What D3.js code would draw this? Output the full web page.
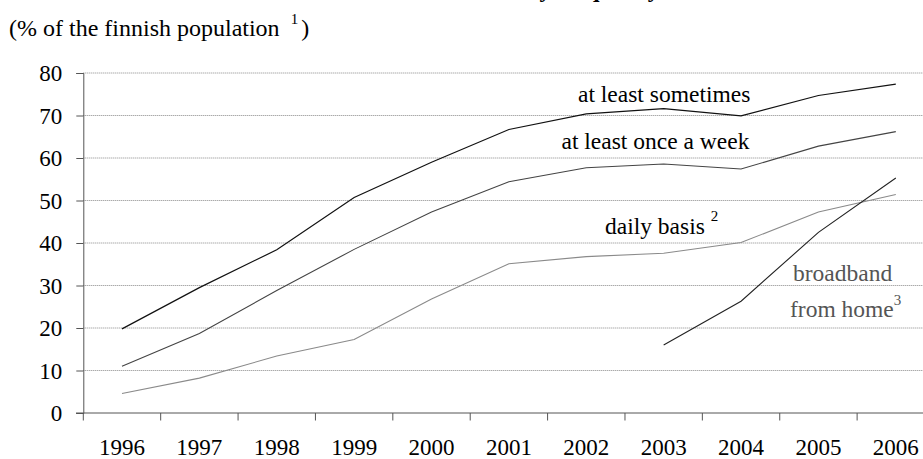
<!DOCTYPE html>
<html><head><meta charset="utf-8">
<script src="https://cdn.jsdelivr.net/npm/d3@7"></script>
<style>
body{margin:0;background:#fff;}
svg{display:block;font-family:"Liberation Serif","Times New Roman",serif;}
</style></head>
<body><svg id="c" width="923" height="459"></svg>
<script>
const years = [1996,1997,1998,1999,2000,2001,2002,2003,2004,2005,2006];
const sometimes = [19.8,29.5,38.4,50.7,59.0,66.7,70.4,71.6,69.9,74.7,77.4];
const weekly    = [11.0,18.7,28.8,38.5,47.3,54.4,57.7,58.6,57.4,62.8,66.2];
const daily     = [4.6,8.2,13.4,17.3,26.8,35.1,36.8,37.6,40.1,47.3,51.4];
const broadbandYears = [2003,2004,2005,2006];
const broadband = [16.0,26.3,42.5,55.3];
const yTicks = [0,10,20,30,40,50,60,70,80];

const svg = d3.select("#c");
const x = d3.scaleBand().domain(years).range([83.3, 934.5]).paddingInner(0).paddingOuter(0);
const y = d3.scaleLinear().domain([0,80]).range([413,73]);
const cx = d => x(d) + x.bandwidth()/2;

// title (mostly cut off at top)
const titleText = "Internet use by frequency";
const title = svg.append("text").attr("x",0).attr("y",-3)
  .attr("font-weight","bold").attr("font-size",24).text(titleText);
{
  const node = title.node();
  const i = titleText.indexOf("q");
  const p = node.getStartPositionOfChar(i).x + node.getExtentOfChar(i).width/2;
  title.attr("x", 593 - p);
}

// subtitle
const st = svg.append("text").attr("x",9).attr("y",36).attr("font-size",24).attr("fill","#000");
st.append("tspan").text("(% of the finnish population ");
st.append("tspan").attr("font-size",15).attr("dy",-12).attr("dx",5).text("1");
st.append("tspan").attr("dy",12).attr("dx",3).text(")");

// gridlines
svg.append("g").selectAll("line").data(yTicks.filter(d=>d>0)).join("line")
  .attr("x1",83.3).attr("x2",923).attr("y1",d=>y(d)).attr("y2",d=>y(d))
  .attr("stroke","#888").attr("stroke-width",1).attr("stroke-dasharray","1,1");

// y axis
const ya = svg.append("g").attr("transform","translate(83.3,0)")
  .call(d3.axisLeft(y).tickValues(yTicks).tickSize(7).tickPadding(14));
ya.select(".domain").attr("stroke","#555");
ya.selectAll(".tick line").attr("stroke","#555");
ya.selectAll("text").attr("font-size",23).attr("font-family","Liberation Serif").attr("fill","#000").attr("dy","0.34em");

// x axis
const xa = svg.append("g").attr("transform","translate(0,413)")
  .call(d3.axisBottom(x).tickSize(0).tickPadding(0));
xa.select(".domain").remove();
xa.selectAll("text").attr("font-size",23).attr("font-family","Liberation Serif").attr("fill","#000")
  .attr("dy",null).attr("y",42);
svg.append("line").attr("x1",76).attr("x2",923).attr("y1",413).attr("y2",413).attr("stroke","#555");
svg.append("g").selectAll("line").data(years).join("line")
  .attr("x1",d=>x(d)).attr("x2",d=>x(d)).attr("y1",413).attr("y2",420.5).attr("stroke","#555");

// lines
const line = d3.line().x(d=>cx(d[0])).y(d=>y(d[1]));
const series = [
  {vals: years.map((yr,i)=>[yr,sometimes[i]]), color:"#111", w:1.2},
  {vals: years.map((yr,i)=>[yr,weekly[i]]), color:"#444", w:1.1},
  {vals: years.map((yr,i)=>[yr,daily[i]]), color:"#8a8a8a", w:1.1},
  {vals: broadbandYears.map((yr,i)=>[yr,broadband[i]]), color:"#222", w:1.1}
];
svg.append("g").selectAll("path").data(series).join("path")
  .attr("d",d=>line(d.vals)).attr("fill","none").attr("stroke",d=>d.color).attr("stroke-width",d=>d.w);

// labels
const lab = (t,xx,yy,col) => svg.append("text").attr("x",xx).attr("y",yy).attr("font-size",23.5).attr("fill",col).text(t);
lab("at least sometimes",578,101.5,"#000");
lab("at least once a week",561.5,148.5,"#000");
const db = lab("daily basis ",605,234,"#000");
db.append("tspan").attr("font-size",15).attr("dy",-13).text("2");
lab("broadband",793,280.5,"#555");
const fh = lab("from home",790,317,"#555");
fh.append("tspan").attr("font-size",15).attr("dy",-12).text("3");
</script></body></html>
